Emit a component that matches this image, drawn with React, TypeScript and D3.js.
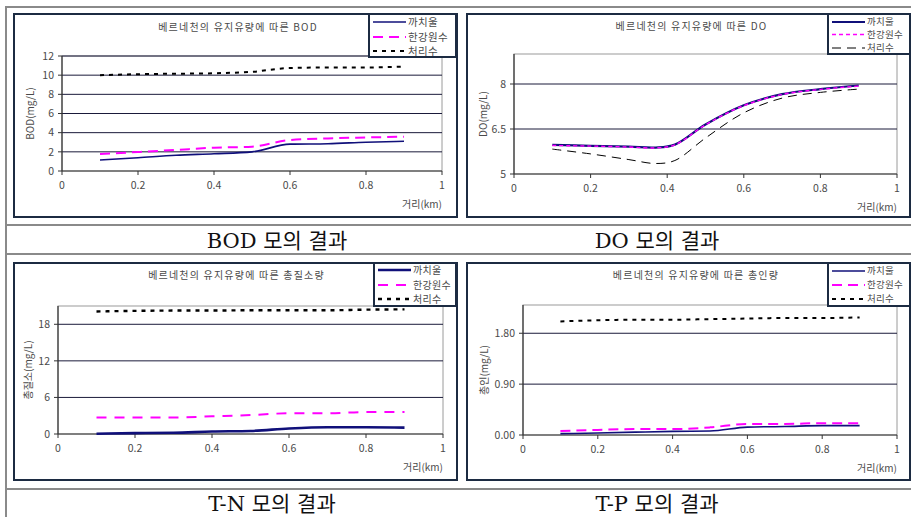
import React from "react";
import * as d3 from "d3";

// ---------- data ----------
const seriesNames = ["까치울", "한강원수", "처리수"];
const xTicks = [0, 0.2, 0.4, 0.6, 0.8, 1];

const bodX = [0.1, 0.2, 0.3, 0.4, 0.5, 0.6, 0.7, 0.8, 0.9];
const bodKachiul = [1.15, 1.39, 1.65, 1.8, 2.0, 2.8, 2.85, 3.0, 3.1];
const bodHangang = [1.77, 1.98, 2.2, 2.43, 2.54, 3.23, 3.4, 3.5, 3.58];
const bodTreated = [10.0, 10.1, 10.15, 10.2, 10.35, 10.75, 10.8, 10.8, 10.9];
const bodYTicks = [0, 2, 4, 6, 8, 10, 12];

const doX = [0.1, 0.2, 0.3, 0.37, 0.42, 0.5, 0.6, 0.7, 0.8, 0.9];
const doKachiul = [5.97, 5.94, 5.91, 5.88, 5.98, 6.65, 7.29, 7.66, 7.83, 7.95];
const doHangang = [5.95, 5.93, 5.9, 5.87, 5.97, 6.64, 7.28, 7.65, 7.82, 7.93];
const doTreated = [5.83, 5.67, 5.48, 5.35, 5.45, 6.2, 7.04, 7.53, 7.72, 7.83];
const doYTicks = [5, 6.5, 8];

const tnX = [0.1, 0.2, 0.3, 0.4, 0.5, 0.6, 0.7, 0.8, 0.9];
const tnKachiul = [0.05, 0.15, 0.2, 0.4, 0.5, 0.9, 1.1, 1.1, 1.05];
const tnHangang = [2.7, 2.7, 2.7, 2.9, 3.1, 3.4, 3.4, 3.6, 3.6];
const tnTreated = [20.1, 20.2, 20.25, 20.25, 20.3, 20.3, 20.3, 20.4, 20.45];
const tnYTicks = [0, 6, 12, 18];

const tpX = [0.1, 0.2, 0.3, 0.4, 0.5, 0.6, 0.7, 0.8, 0.9];
const tpKachiul = [0.024, 0.035, 0.05, 0.065, 0.07, 0.14, 0.15, 0.165, 0.165];
const tpHangang = [0.07, 0.09, 0.105, 0.105, 0.135, 0.195, 0.195, 0.21, 0.21];
const tpTreated = [2.01, 2.03, 2.04, 2.04, 2.05, 2.06, 2.07, 2.07, 2.08];
const tpYTicks = [0, 0.9, 1.8];

const titles = [
  "베르네천의 유지유량에 따른 BOD",
  "베르네천의 유지유량에 따른 DO",
  "베르네천의 유지유량에 따른 총질소량",
  "베르네천의 유지유량에 따른 총인량",
];
const yLabels = ["BOD(mg/L)", "DO(mg/L)", "총질소(mg/L)", "총인(mg/L)"];
const captions = ["BOD 모의 결과", "DO 모의 결과", "T-N 모의 결과", "T-P 모의 결과"];
const xLabel = "거리(km)";

// ---------- layout / style ----------
type LineStyle = { color: string; width: number; dash?: string };
type PanelCfg = {
  frame: [number, number, number, number];
  plot: [number, number, number, number];
  yDomain: [number, number];
  yTicks: number[];
  yFmt: (v: number) => string;
  title: string;
  titleY: number;
  yLabel: string;
  yLabelX: number;
  legend: [number, number, number, number];
  legendYs: number[];
  legendFont: number;
  xs: number[];
  series: number[][];
  styles: LineStyle[];
  curve: any;
};

const NAVY = "#10107a";
const MAG = "#ff00ff";
const FRAME = "#1c2b42";
const TXT = "#4a4a4a";
const FONT = "'Noto Sans CJK KR', 'DejaVu Sans', sans-serif";

const fmtG = (v: number) => String(v);

const panels: PanelCfg[] = [
  {
    frame: [14, 14, 457, 217],
    plot: [62, 56, 442, 171],
    yDomain: [0, 12],
    yTicks: bodYTicks,
    yFmt: fmtG,
    title: titles[0],
    titleY: 31,
    yLabel: yLabels[0],
    yLabelX: 30,
    legend: [369, 14, 456, 57],
    legendYs: [22, 37, 51],
    legendFont: 10.5,
    xs: bodX,
    series: [bodKachiul, bodHangang, bodTreated],
    styles: [
      { color: NAVY, width: 1.6 },
      { color: MAG, width: 2, dash: "10,6" },
      { color: "#000", width: 2, dash: "4,5" },
    ],
    curve: d3.curveMonotoneX,
  },
  {
    frame: [467, 14, 910, 217],
    plot: [514, 54, 897, 174],
    yDomain: [5, 9],
    yTicks: doYTicks,
    yFmt: fmtG,
    title: titles[1],
    titleY: 30,
    yLabel: yLabels[1],
    yLabelX: 483,
    legend: [828, 14, 910, 54],
    legendYs: [22, 34.5, 48],
    legendFont: 9.5,
    xs: doX,
    series: [doKachiul, doHangang, doTreated],
    styles: [
      { color: NAVY, width: 2.2 },
      { color: MAG, width: 1.4, dash: "4,3" },
      { color: "#000", width: 1, dash: "9,6" },
    ],
    curve: d3.curveCatmullRom.alpha(0.5),
  },
  {
    frame: [14, 263, 457, 480],
    plot: [58, 306, 443, 434],
    yDomain: [0, 21],
    yTicks: tnYTicks,
    yFmt: fmtG,
    title: titles[2],
    titleY: 279,
    yLabel: yLabels[2],
    yLabelX: 28,
    legend: [374, 263, 456, 306],
    legendYs: [270, 285, 299],
    legendFont: 10,
    xs: tnX,
    series: [tnKachiul, tnHangang, tnTreated],
    styles: [
      { color: NAVY, width: 2.6 },
      { color: MAG, width: 2, dash: "10,8" },
      { color: "#000", width: 2.4, dash: "4,5" },
    ],
    curve: d3.curveMonotoneX,
  },
  {
    frame: [467, 263, 910, 480],
    plot: [523, 305, 897, 435],
    yDomain: [0, 2.3],
    yTicks: tpYTicks,
    yFmt: d3.format(".2f"),
    title: titles[3],
    titleY: 279,
    yLabel: yLabels[3],
    yLabelX: 484,
    legend: [828, 263, 910, 306],
    legendYs: [271, 285, 299],
    legendFont: 9.5,
    xs: tpX,
    series: [tpKachiul, tpHangang, tpTreated],
    styles: [
      { color: NAVY, width: 1.6 },
      { color: MAG, width: 2, dash: "10,6" },
      { color: "#000", width: 2, dash: "4,5" },
    ],
    curve: d3.curveMonotoneX,
  },
];

function Panel({ cfg }: { cfg: PanelCfg }) {
  const [fx0, fy0, fx1, fy1] = cfg.frame;
  const [px0, py0, px1, py1] = cfg.plot;
  const x = d3.scaleLinear().domain([0, 1]).range([px0, px1]);
  const y = d3.scaleLinear().domain(cfg.yDomain).range([py1, py0]);
  const [lx0, ly0, lx1, ly1] = cfg.legend;
  return (
    <g>
      <rect x={fx0} y={fy0} width={fx1 - fx0} height={fy1 - fy0} fill="#fff" stroke={FRAME} strokeWidth={2} />
      <rect x={px0} y={py0} width={px1 - px0} height={py1 - py0} fill="#fff" stroke="#9a9a9a" strokeWidth={1} />
      {cfg.yTicks.map((t) =>
        t === cfg.yDomain[0] ? null : (
          <line key={"g" + t} x1={px0} x2={px1} y1={y(t)} y2={y(t)} stroke="#1a1a3a" strokeWidth={1} />
        )
      )}
      <line x1={px0} x2={px0} y1={py0} y2={py1} stroke="#333" strokeWidth={1.2} />
      <line x1={px0} x2={px1} y1={py1} y2={py1} stroke="#333" strokeWidth={1.2} />
      {cfg.yTicks.map((t) => (
        <g key={"yt" + t}>
          <line x1={px0 - 4} x2={px0} y1={y(t)} y2={y(t)} stroke="#333" />
          <text x={px0 - 8} y={y(t)} dy="0.35em" textAnchor="end" fontSize={10.5} fill={TXT} fontFamily={FONT}>
            {cfg.yFmt(t)}
          </text>
        </g>
      ))}
      {xTicks.map((t) => (
        <g key={"xt" + t}>
          <line x1={x(t)} x2={x(t)} y1={py1} y2={py1 + 4} stroke="#333" />
          <text x={x(t)} y={py1 + 18} textAnchor="middle" fontSize={10.5} fill={TXT} fontFamily={FONT}>
            {String(t)}
          </text>
        </g>
      ))}
      <text x={px1} y={py1 + 37} textAnchor="end" fontSize={10} fill={TXT} fontFamily={FONT}>
        {xLabel}
      </text>
      <text
        transform={`translate(${cfg.yLabelX},${(py0 + py1) / 2}) rotate(-90)`}
        textAnchor="middle"
        dy="0.35em"
        fontSize={10}
        fill={TXT}
        fontFamily={FONT}
      >
        {cfg.yLabel}
      </text>
      <text x={(px0 + px1) / 2 - 14} y={cfg.titleY} textAnchor="middle" fontSize={10} fill={TXT} fontFamily={FONT} letterSpacing={1.2}>
        {cfg.title}
      </text>
      {cfg.series.map((vals, i) => {
        const pts: [number, number][] = cfg.xs.map((xv, j) => [x(xv), y(vals[j])]);
        const path = d3.line().curve(cfg.curve)(pts) || "";
        const st = cfg.styles[i];
        return (
          <path key={"s" + i} d={path} fill="none" stroke={st.color} strokeWidth={st.width} strokeDasharray={st.dash} />
        );
      })}
      <rect x={lx0} y={ly0} width={lx1 - lx0} height={ly1 - ly0} fill="#fff" stroke={FRAME} strokeWidth={2} />
      {seriesNames.map((n, i) => {
        const st = cfg.styles[i];
        const yy = cfg.legendYs[i];
        return (
          <g key={"l" + i}>
            <line x1={lx0 + 4} x2={lx0 + 37} y1={yy} y2={yy} stroke={st.color} strokeWidth={st.width} strokeDasharray={st.dash} />
            <text x={lx0 + 39} y={yy} dy="0.35em" fontSize={cfg.legendFont} fill={TXT} fontFamily={FONT} letterSpacing={0.3}>
              {n}
            </text>
          </g>
        );
      })}
    </g>
  );
}

export default function App() {
  const W = 911;
  const H = 517;
  const capCenters = [277, 657, 272, 657];
  const capYs = [248, 248, 511, 511];
  return (
    <svg width={W} height={H} style={{ position: "absolute", left: 0, top: 0 }} xmlns="http://www.w3.org/2000/svg">
      <rect x={0} y={0} width={W} height={H} fill="#fff" />
      <line x1={6} x2={6} y1={6} y2={H} stroke="#8a8a8a" strokeWidth={2} />
      {[7, 225, 254, 489].map((yy) => (
        <line key={"h" + yy} x1={6} x2={W} y1={yy} y2={yy} stroke="#8a8a8a" strokeWidth={2} />
      ))}
      {panels.map((p, i) => (
        <Panel key={i} cfg={p} />
      ))}
      {captions.map((c, i) => (
        <text
          key={"c" + i}
          x={capCenters[i]}
          y={capYs[i]}
          textAnchor="middle"
          fontSize={21}
          fill="#111"
          fontFamily="'DejaVu Serif', 'Liberation Serif', 'Noto Sans CJK KR', serif"
        >
          {c}
        </text>
      ))}
    </svg>
  );
}
